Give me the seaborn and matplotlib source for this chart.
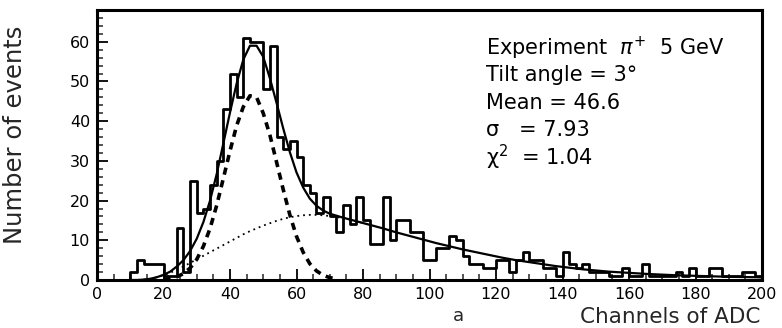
import numpy as np
import pandas as pd
import seaborn as sns
import matplotlib
matplotlib.use("Agg")
import matplotlib.pyplot as plt
from matplotlib.ticker import MultipleLocator

# ---------------- data ----------------
bin_edges = list(range(0, 202, 2))          # channels of ADC, 2-channel bins
counts = [
    0, 0, 0, 0, 0, 2, 5, 4, 4, 4,            # 0-20
    1, 1, 13, 2, 25, 17, 18, 24, 30, 43,     # 20-40
    52, 46, 61, 60, 60, 48, 59, 36, 33, 35,  # 40-60
    31, 24, 22, 17, 21, 16, 12, 19, 14, 21,  # 60-80
    15, 9, 9, 21, 10, 15, 15, 12, 12, 5,     # 80-100
    5, 8, 8, 11, 10, 6, 4, 4, 3, 3,          # 100-120
    5, 5, 2, 5, 7, 5, 5, 3, 3, 1,            # 120-140
    7, 4, 3, 4, 2, 2, 2, 1, 1, 3,            # 140-160
    1, 1, 4, 1, 1, 1, 1, 2, 1, 3,            # 160-180
    1, 1, 3, 3, 1, 1, 1, 2, 2, 1,            # 180-200
]

# total fit (solid line)
fit_ch = [10, 12, 14, 16, 18, 20, 22, 24, 26, 28, 30, 32, 34, 36, 38, 40,
          42, 44, 46, 48, 50, 52, 54, 56, 58, 60, 62, 64, 66, 68, 70,
          74, 78, 82, 86, 90, 94, 98, 102, 106, 110, 114, 118, 122, 126,
          130, 134, 138, 142, 146, 150, 154, 158, 162, 166, 170, 174, 178,
          182, 186, 190, 194, 198, 200]
fit_total = [0.0, 0.0, 0.1, 0.3, 0.7, 1.3, 2.1, 3.4, 5.0, 7.3, 10.4, 14.6,
             20.0, 26.7, 34.4, 42.2, 49.5, 55.5, 59.0, 59.0, 56.2, 50.8,
             44.6, 38.2, 32.2, 27.1, 23.3, 20.5, 18.7, 17.5, 16.7,
             15.7, 14.8, 13.9, 13.0, 12.0, 11.1, 10.2, 9.3, 8.5, 7.7, 7.0,
             6.3, 5.6, 5.0, 4.5, 4.0, 3.5, 3.1, 2.7, 2.4, 2.1, 1.9, 1.7,
             1.5, 1.35, 1.2, 1.1, 1.0, 0.9, 0.8, 0.75, 0.7, 0.65]

# gaussian component (dashed line)
gauss_ch = [20, 22, 24, 26, 28, 30, 32, 34, 36, 38, 40, 42, 44, 46, 48, 50,
            52, 54, 56, 58, 60, 62, 64, 66, 68, 70, 72]
gauss_val = [0.1, 0.3, 0.8, 1.6, 3.0, 5.2, 8.5, 13.0, 18.8, 25.6, 32.5, 38.9,
             43.6, 46.4, 46.0, 42.0, 36.5, 29.7, 22.8, 16.4, 11.0, 7.0, 4.1,
             2.3, 1.2, 0.6, 0.3]

# broad component (dotted line)
broad_ch = [14, 16, 18, 20, 22, 24, 26, 28, 30, 32, 34, 36, 38, 40, 42, 44,
            46, 48, 50, 52, 54, 56, 58, 60, 62, 64, 66, 68, 70, 74, 78, 82]
broad_val = [0.1, 0.3, 0.7, 1.2, 1.8, 2.6, 3.4, 4.3, 5.2, 6.1, 7.0, 7.9, 8.8,
             9.7, 10.6, 11.5, 12.3, 13.0, 13.7, 14.3, 14.9, 15.4, 15.8, 16.1,
             16.3, 16.4, 16.4, 16.3, 16.1, 15.6, 14.8, 13.9]

info_lines = ["Experiment  $\\pi^{+}$  5 GeV", "Tilt angle = 3°", "Mean = 46.6",
              "σ   = 7.93", "χ$^{2}$  = 1.04"]

# ---------------- figure ----------------
sns.set_style("ticks")
plt.rcParams['font.family'] = ['DejaVu Sans']
plt.rcParams['mathtext.fontset'] = 'dejavusans'

fig = plt.figure(figsize=(7.82, 3.28), dpi=100)
ax = fig.add_axes([97 / 782, 48 / 328, (762 - 97) / 782, (318 - 48) / 328])

centers = [(bin_edges[i] + bin_edges[i + 1]) / 2 for i in range(len(counts))]
hist_df = pd.DataFrame({"ch": centers, "n": counts})
sns.histplot(data=hist_df, x="ch", weights="n", bins=bin_edges, element="step",
             fill=False, color="black", linewidth=2.0, ax=ax)

sns.lineplot(x=broad_ch, y=broad_val, color="black", linewidth=1.3,
             linestyle=(0, (1, 2.2)), ax=ax)
sns.lineplot(x=gauss_ch, y=gauss_val, color="black", linewidth=2.6,
             linestyle=(0, (2.0, 1.6)), ax=ax)
sns.lineplot(x=fit_ch, y=fit_total, color="black", linewidth=1.6, ax=ax)

ax.set_xlim(0, 200)
ax.set_ylim(0, 68)
ax.set_xlabel("")
ax.set_ylabel("")
ax.xaxis.set_major_locator(MultipleLocator(20))
ax.xaxis.set_minor_locator(MultipleLocator(5))
ax.yaxis.set_major_locator(MultipleLocator(10))
ax.yaxis.set_minor_locator(MultipleLocator(2))
ax.tick_params(which="major", direction="in", length=8, width=1.3,
               labelsize=11.5, colors="black", pad=5)
ax.tick_params(which="minor", direction="in", length=4, width=1.1)
ax.tick_params(axis="both", which="both", top=False, right=False)
for s in ax.spines.values():
    s.set_visible(True)
    s.set_linewidth(2.2)
    s.set_color("black")

ys = [58.4, 51.6, 44.6, 37.8, 31.0]
for txt, yv in zip(info_lines, ys):
    ax.text(117, yv, txt, fontsize=15, va="center", ha="left", color="black")

fig.text(15 / 782, 1 - 135 / 328, "Number of events", rotation=90,
         ha="center", va="center", fontsize=17.5)
fig.text(760 / 782, 1 - 317 / 328, "Channels of ADC", ha="right",
         va="center", fontsize=15.5)
fig.text(458 / 782, 1 - 316 / 328, "a", ha="center", va="center", fontsize=13)

fig.savefig("out.png", dpi=100, facecolor="white")
